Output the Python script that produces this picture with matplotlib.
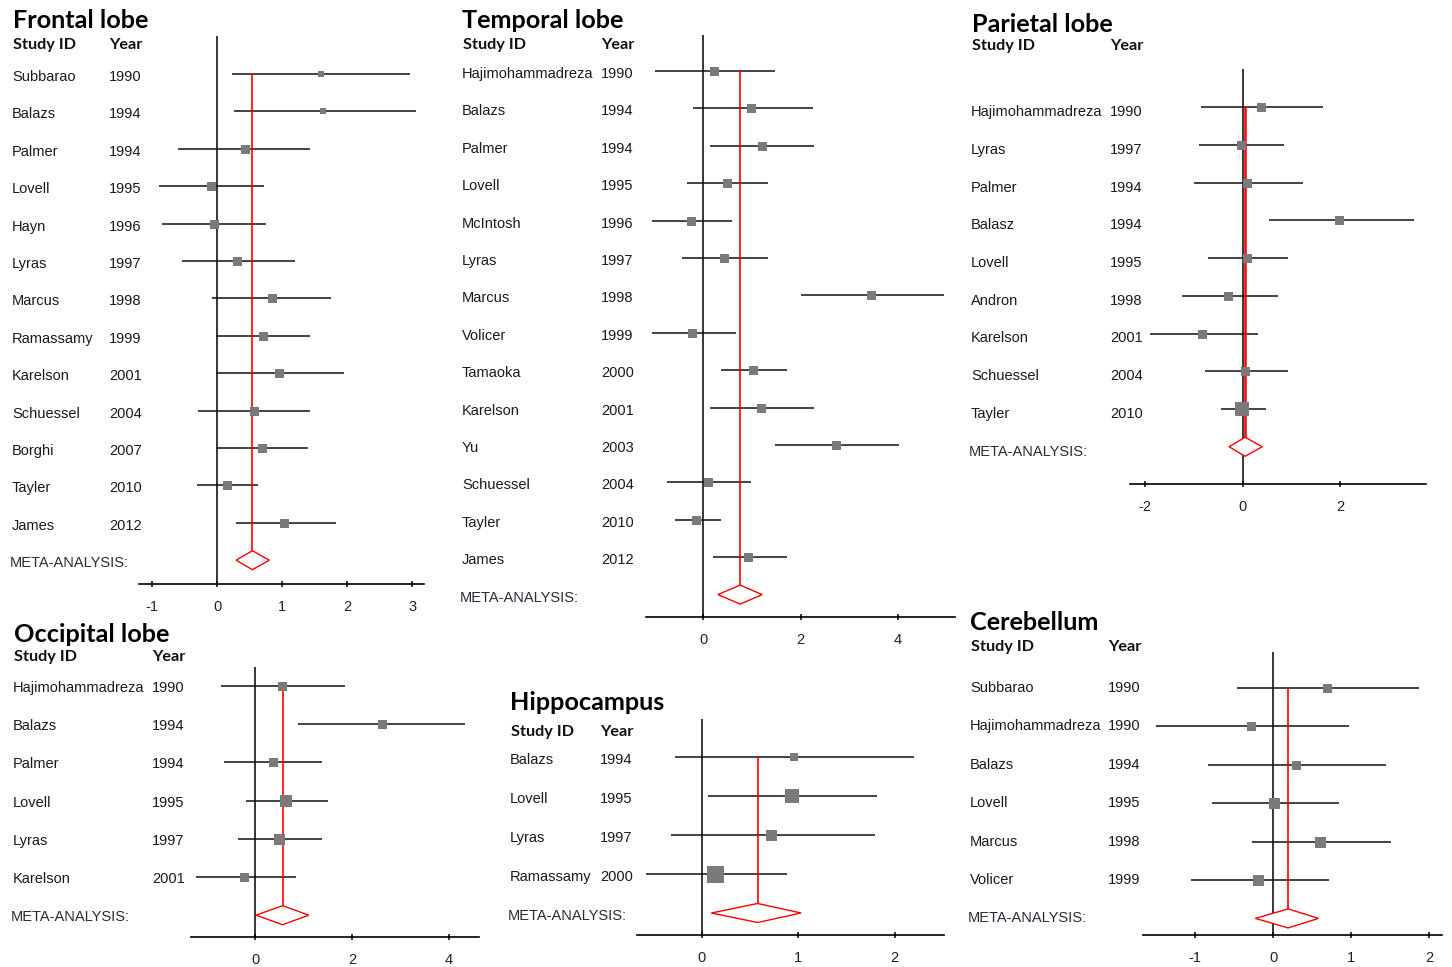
import matplotlib.pyplot as plt
from matplotlib.patches import Polygon
from matplotlib.transforms import blended_transform_factory

W, H = 1452, 967

# ---- Frontal lobe ----
frontal_study = ["Subbarao", "Balazs", "Palmer", "Lovell", "Hayn", "Lyras", "Marcus",
                 "Ramassamy", "Karelson", "Schuessel", "Borghi", "Tayler", "James"]
frontal_year = ["1990", "1994", "1994", "1995", "1996", "1997", "1998",
                "1999", "2001", "2004", "2007", "2010", "2012"]
frontal_smd = [1.60, 1.63, 0.42, -0.09, -0.05, 0.31, 0.84, 0.71, 0.95, 0.57, 0.69, 0.15, 1.03]
frontal_lo = [0.23, 0.26, -0.60, -0.89, -0.85, -0.55, -0.08, -0.02, -0.02, -0.29, 0.00, -0.31, 0.28]
frontal_hi = [2.97, 3.06, 1.43, 0.72, 0.75, 1.20, 1.75, 1.43, 1.95, 1.43, 1.40, 0.62, 1.82]
frontal_wt = [6, 6, 9, 9, 9, 9, 9, 9, 9, 9, 9, 9, 9]
frontal_meta = [0.54, 0.29, 0.80]
frontal_ticks = [-1, 0, 1, 2, 3]

# ---- Temporal lobe ----
temporal_study = ["Hajimohammadreza", "Balazs", "Palmer", "Lovell", "McIntosh", "Lyras", "Marcus",
                  "Volicer", "Tamaoka", "Karelson", "Yu", "Schuessel", "Tayler", "James"]
temporal_year = ["1990", "1994", "1994", "1995", "1996", "1997", "1998",
                 "1999", "2000", "2001", "2003", "2004", "2010", "2012"]
temporal_smd = [0.22, 0.98, 1.21, 0.49, -0.25, 0.43, 3.46, -0.23, 1.02, 1.19, 2.74, 0.10, -0.15, 0.92]
temporal_lo = [-1.00, -0.21, 0.14, -0.34, -1.06, -0.43, 2.01, -1.06, 0.37, 0.14, 1.48, -0.75, -0.58, 0.20]
temporal_hi = [1.48, 2.26, 2.28, 1.34, 0.60, 1.34, 4.96, 0.67, 1.73, 2.28, 4.02, 0.98, 0.37, 1.73]
temporal_wt = [9] * 14
temporal_meta = [0.76, 0.30, 1.21]
temporal_ticks = [0, 2, 4]

# ---- Parietal lobe ----
parietal_study = ["Hajimohammadreza", "Lyras", "Palmer", "Balasz", "Lovell", "Andron",
                  "Karelson", "Schuessel", "Tayler"]
parietal_year = ["1990", "1997", "1994", "1994", "1995", "1998", "2001", "2004", "2010"]
parietal_smd = [0.38, -0.03, 0.09, 1.98, 0.09, -0.30, -0.83, 0.05, -0.01]
parietal_lo = [-0.86, -0.90, -1.00, 0.54, -0.71, -1.24, -1.90, -0.77, -0.44]
parietal_hi = [1.65, 0.85, 1.24, 3.52, 0.93, 0.73, 0.31, 0.93, 0.48]
parietal_wt = [9, 9, 9, 9, 9, 9, 9, 9, 14]
parietal_meta = [0.05, -0.28, 0.40]
parietal_ticks = [-2, 0, 2]

# ---- Occipital lobe ----
occipital_study = ["Hajimohammadreza", "Balazs", "Palmer", "Lovell", "Lyras", "Karelson"]
occipital_year = ["1990", "1994", "1994", "1995", "1997", "2001"]
occipital_smd = [0.56, 2.61, 0.37, 0.64, 0.50, -0.22]
occipital_lo = [-0.70, 0.89, -0.64, -0.19, -0.36, -1.22]
occipital_hi = [1.86, 4.33, 1.38, 1.50, 1.38, 0.85]
occipital_wt = [9, 9, 9, 12, 11, 9]
occipital_meta = [0.57, 0.02, 1.11]
occipital_ticks = [0, 2, 4]

# ---- Hippocampus ----
hippo_study = ["Balazs", "Lovell", "Lyras", "Ramassamy"]
hippo_year = ["1994", "1995", "1997", "2000"]
hippo_smd = [0.96, 0.94, 0.72, 0.14]
hippo_lo = [-0.28, 0.07, -0.32, -0.58]
hippo_hi = [2.20, 1.82, 1.80, 0.88]
hippo_wt = [8, 14, 11, 17]
hippo_meta = [0.58, 0.10, 1.03]
hippo_ticks = [0, 1, 2]

# ---- Cerebellum ----
cereb_study = ["Subbarao", "Hajimohammadreza", "Balazs", "Lovell", "Marcus", "Volicer"]
cereb_year = ["1990", "1990", "1994", "1995", "1998", "1999"]
cereb_smd = [0.69, -0.28, 0.29, 0.01, 0.60, -0.20]
cereb_lo = [-0.47, -1.50, -0.84, -0.78, -0.27, -1.05]
cereb_hi = [1.87, 0.97, 1.45, 0.84, 1.51, 0.72]
cereb_wt = [9, 9, 9, 11, 11, 11]
cereb_meta = [0.19, -0.23, 0.58]
cereb_ticks = [-1, 0, 1, 2]

LABEL_FONT = "Liberation Sans"
HEAD_FONT = "Lato"
LABEL_SIZE = 10.5

fig = plt.figure(figsize=(W / 100, H / 100), dpi=100)


def forest(title, study, year, smd, lo, hi, wt, meta, ticks, lay):
    """Draw one forest plot; lay holds pixel positions of the panel."""
    n = len(study)
    zero, ppu = lay["zero"], lay["ppu"]
    row0, dy = lay["row0"], lay["dy"]
    x0, x1, ya, yt = lay["x0"], lay["x1"], lay["axis_y"], lay["top"]

    ax = fig.add_axes([x0 / W, 1 - ya / H, (x1 - x0) / W, (ya - yt) / H])
    ax.set_xlim((x0 - zero) / ppu, (x1 - zero) / ppu)
    ax.set_ylim((ya - row0) / dy, (yt - row0) / dy)
    ax.patch.set_alpha(0)
    for s in ["top", "right", "left"]:
        ax.spines[s].set_visible(False)
    ax.spines["bottom"].set_linewidth(1.2)
    ax.set_yticks([])
    ax.set_xticks(ticks)
    ax.set_xticklabels([str(t) for t in ticks], fontfamily=LABEL_FONT, fontsize=LABEL_SIZE,
                       color="#222222")
    ax.tick_params(axis="x", direction="inout", length=5, width=1.1, pad=9)

    ax.axvline(0, color="black", lw=1.1, zorder=1)
    ax.hlines(range(n), lo, hi, color="#111111", lw=1.1, zorder=2)
    for i in range(n):
        ax.plot(smd[i], i, "s", ms=wt[i] * 0.72, color="#7a7a7a", mew=0, zorder=4)

    # pooled estimate: red reference line and diamond
    m, mlo, mhi = meta
    h = 9.5 / dy
    ax.plot([m, m], [0, n - h], color="red", lw=lay.get("red_lw", 1.2), zorder=3)
    ax.add_patch(Polygon([(mlo, n), (m, n - h), (mhi, n), (m, n + h)], closed=True,
                         fc="white", ec="red", lw=1.0, zorder=5))

    tr = blended_transform_factory(fig.transFigure, ax.transData)
    off = lay["off"] / dy
    for i in range(n):
        ax.text(lay["lab_x"] / W, i + off, study[i], transform=tr, va="center", ha="left",
                fontfamily=LABEL_FONT, fontsize=LABEL_SIZE, color="#1a1a1a", clip_on=False)
        ax.text(lay["year_x"] / W, i + off, year[i], transform=tr, va="center", ha="left",
                fontfamily=LABEL_FONT, fontsize=LABEL_SIZE, color="#1a1a1a", clip_on=False)
    ax.text(lay["lab_x"] / W - 2 / W, n + off, "META-ANALYSIS:", transform=tr, va="center",
            ha="left", fontfamily=LABEL_FONT, fontsize=LABEL_SIZE, color="#2a2a3a", clip_on=False)

    tx, ty = lay["title"]
    fig.text(tx / W, 1 - ty / H, title, fontfamily=HEAD_FONT, fontweight="bold",
             fontsize=18.2, va="center", ha="left", color="black")
    fig.text((lay["lab_x"] + 1) / W, 1 - lay["head_y"] / H, "Study ID", fontfamily=HEAD_FONT,
             fontweight="bold", fontsize=11.7, va="center", ha="left", color="#111111")
    fig.text(lay["year_x"] / W, 1 - lay["head_y"] / H, "Year", fontfamily=HEAD_FONT,
             fontweight="bold", fontsize=11.7, va="center", ha="left", color="#111111")
    return ax


forest("Frontal lobe", frontal_study, frontal_year, frontal_smd, frontal_lo, frontal_hi,
       frontal_wt, frontal_meta, frontal_ticks,
       dict(x0=139, x1=424, axis_y=584, top=36, zero=217.3, ppu=65.0, row0=74, dy=37.4,
            lab_x=12, year_x=109, title=(13, 21), head_y=45, off=3))

forest("Temporal lobe", temporal_study, temporal_year, temporal_smd, temporal_lo, temporal_hi,
       temporal_wt, temporal_meta, temporal_ticks,
       dict(x0=646, x1=955, axis_y=617, top=35, zero=703.3, ppu=48.6, row0=71, dy=37.4,
            lab_x=462, year_x=601, title=(462, 21), head_y=45, off=3))

forest("Parietal lobe", parietal_study, parietal_year, parietal_smd, parietal_lo, parietal_hi,
       parietal_wt, parietal_meta, parietal_ticks,
       dict(x0=1130, x1=1426, axis_y=484, top=69, zero=1242.7, ppu=48.75, row0=107, dy=37.75,
            lab_x=971, year_x=1110, title=(972, 24), head_y=46, off=5, red_lw=1.8))

forest("Occipital lobe", occipital_study, occipital_year, occipital_smd, occipital_lo, occipital_hi,
       occipital_wt, occipital_meta, occipital_ticks,
       dict(x0=191, x1=479, axis_y=937, top=667, zero=255.0, ppu=48.5, row0=686, dy=38.2,
            lab_x=13, year_x=152, title=(14, 634), head_y=657, off=2))

forest("Hippocampus", hippo_study, hippo_year, hippo_smd, hippo_lo, hippo_hi,
       hippo_wt, hippo_meta, hippo_ticks,
       dict(x0=637, x1=944, axis_y=935, top=719, zero=701.7, ppu=96.5, row0=757, dy=39.0,
            lab_x=510, year_x=600, title=(510, 703), head_y=732, off=3))

forest("Cerebellum", cereb_study, cereb_year, cereb_smd, cereb_lo, cereb_hi,
       cereb_wt, cereb_meta, cereb_ticks,
       dict(x0=1143, x1=1442, axis_y=935, top=652, zero=1273.3, ppu=78.0, row0=688, dy=38.4,
            lab_x=970, year_x=1108, title=(970, 622), head_y=647, off=0))

fig.savefig("out.png", dpi=100)
